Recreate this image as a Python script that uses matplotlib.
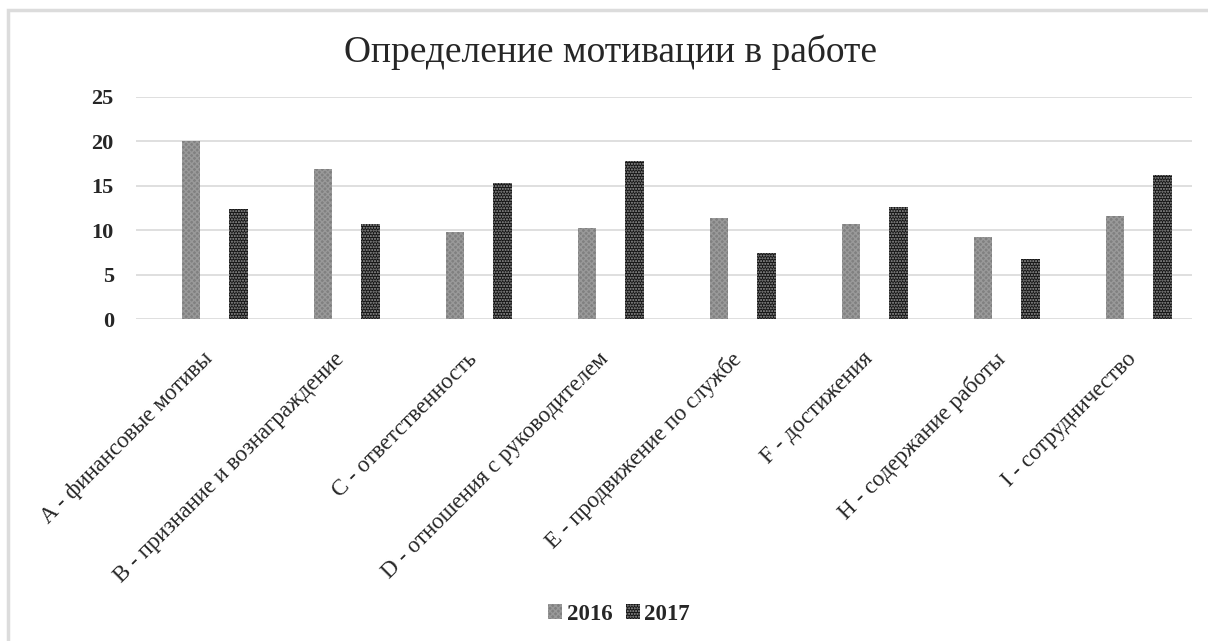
import matplotlib
matplotlib.use("Agg")
import matplotlib.pyplot as plt
from matplotlib.patches import Rectangle
import numpy as np

categories = [
    "A - финансовые мотивы",
    "B - признание и вознаграждение",
    "C - ответственность",
    "D - отношения с руководителем",
    "E - продвижение по службе",
    "F - достижения",
    "H - содержание работы",
    "I - сотрудничество",
]
values_2016 = [20.0, 16.9, 9.8, 10.25, 11.4, 10.75, 9.2, 11.55]
values_2017 = [12.4, 10.75, 15.3, 17.8, 7.4, 12.6, 6.75, 16.2]
series_labels = ["2016", "2017"]
y_ticks = [0, 5, 10, 15, 20, 25]

W, H = 1208, 641
fig = plt.figure(figsize=(W / 100, H / 100), dpi=100)
plt.rcParams["hatch.linewidth"] = 1.0

# light outer frame of the chart area
fig.patches.append(Rectangle((8 / W, -0.1), 1.2, 1 - 10 / H + 0.1,
                             transform=fig.transFigure, fill=False,
                             edgecolor="#dcdcdc", linewidth=2.5))

ax = fig.add_axes([136 / W, 1 - 319.3 / H, (1192 - 136) / W, (319.3 - 96.7) / H])

x = np.arange(len(categories))
bar_w = 0.14
ax.bar(x - 0.083, values_2016, width=bar_w, color="#808080", edgecolor="#999999",
       hatch="xxxxxx", linewidth=0, label=series_labels[0], zorder=3)
ax.bar(x + 0.277, values_2017, width=bar_w, color="#141414", edgecolor="#9a9a9a",
       hatch="......", linewidth=0, label=series_labels[1], zorder=3)

ax.set_xlim(-0.5, len(categories) - 0.5)
ax.set_ylim(0, 25)
ax.yaxis.grid(True, color="#d9d9d9", linewidth=1.2, zorder=0)
for s in ax.spines.values():
    s.set_visible(False)
ax.tick_params(axis="both", length=0)
ax.tick_params(axis="y", pad=16)

serif = ["Liberation Serif", "DejaVu Serif"]
ax.set_yticks(y_ticks)
ax.set_yticklabels([str(v) for v in y_ticks], family=serif, fontsize=16,
                   fontweight="bold", color="#262626")
ax.set_xticks(x)
ax.set_xticklabels(categories, family=serif, fontsize=16.5, color="#262626",
                   rotation=45, ha="right", va="top", rotation_mode="anchor")
ax.tick_params(axis="x", pad=21)

fig.text(610 / W, 1 - 52 / H, "Определение мотивации в работе", family=serif,
         fontsize=27, ha="center", va="center", color="#262626")

leg = fig.legend(loc="center", bbox_to_anchor=(619 / W, 1 - 614 / H), ncol=2,
                 frameon=False, prop={"family": serif, "size": 16.5, "weight": "bold"},
                 handlelength=0.6, handleheight=0.6, handletextpad=0.2,
                 columnspacing=0.6, labelcolor="#262626")

fig.savefig("out.png", dpi=100, facecolor="white")
